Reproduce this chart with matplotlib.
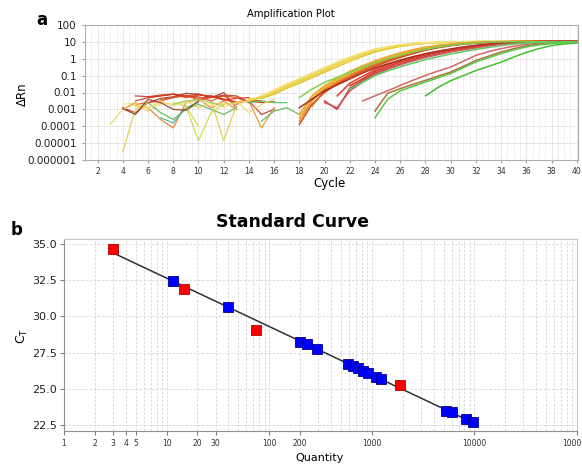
import matplotlib
matplotlib.use('Agg')
import matplotlib.pyplot as plt
import numpy as np
from matplotlib.ticker import MultipleLocator, LogLocator, NullFormatter

# ---------------------------------------------------------------------
# Panel a: amplification curves, log10(dRn) per cycle starting at a given cycle
growth_starts = [14, 14, 14, 13, 15,
                 18, 18, 18, 18, 19,
                 22, 20, 21, 20, 18,
                 23, 24, 24, 28, 18, 22]
growth_logs = [
    # yellow band
    [-2.45, -2.3, -2.0, -1.65, -1.35, -1.0, -0.7, -0.35, -0.03, 0.25, 0.48, 0.65, 0.78, 0.87, 0.93, 0.97, 1.0, 1.01,
     1.02, 1.02, 1.02, 1.02, 1.02, 1.02, 1.02, 1.02, 1.02],
    [-2.5, -2.2, -1.9, -1.55, -1.22, -0.9, -0.58, -0.25, 0.05, 0.32, 0.54, 0.7, 0.82, 0.9, 0.95, 0.98, 1.0, 1.01,
     1.02, 1.02, 1.02, 1.02, 1.02, 1.02, 1.02, 1.02, 1.02],
    [-2.4, -2.35, -2.1, -1.75, -1.45, -1.12, -0.8, -0.47, -0.15, 0.14, 0.4, 0.58, 0.73, 0.84, 0.91, 0.95, 0.98, 1.0,
     1.01, 1.02, 1.02, 1.02, 1.02, 1.02, 1.02, 1.02, 1.02],
    [-2.6, -2.5, -2.25, -1.95, -1.6, -1.28, -0.95, -0.62, -0.3, 0.0, 0.28, 0.5, 0.67, 0.8, 0.88, 0.94, 0.97, 0.99,
     1.0, 1.01, 1.01, 1.01, 1.01, 1.01, 1.01, 1.01, 1.01, 1.01],
    [-2.2, -1.85, -1.5, -1.18, -0.85, -0.52, -0.2, 0.1, 0.36, 0.57, 0.72, 0.83, 0.9, 0.95, 0.98, 1.0, 1.01, 1.01,
     1.01, 1.01, 1.01, 1.01, 1.01, 1.01, 1.01, 1.01],
    # orange band
    [-3.7, -2.5, -1.8, -1.35, -0.95, -0.6, -0.3, -0.03, 0.2, 0.42, 0.6, 0.72, 0.82, 0.9, 0.95, 0.99, 1.01, 1.02,
     1.03, 1.03, 1.03, 1.03, 1.03],
    [-3.3, -2.2, -1.6, -1.15, -0.75, -0.42, -0.12, 0.13, 0.35, 0.54, 0.69, 0.8, 0.88, 0.94, 0.98, 1.0, 1.02, 1.03,
     1.03, 1.03, 1.03, 1.03, 1.03],
    [-3.9, -2.7, -2.0, -1.5, -1.1, -0.75, -0.45, -0.17, 0.08, 0.3, 0.5, 0.65, 0.77, 0.86, 0.92, 0.96, 0.99, 1.01,
     1.02, 1.03, 1.03, 1.03, 1.03],
    [-3.5, -2.35, -1.7, -1.25, -0.85, -0.5, -0.2, 0.06, 0.28, 0.48, 0.65, 0.77, 0.86, 0.92, 0.96, 0.99, 1.01, 1.02,
     1.02, 1.02, 1.02, 1.02, 1.02],
    [-2.8, -1.9, -1.45, -1.05, -0.7, -0.38, -0.1, 0.14, 0.36, 0.55, 0.69, 0.8, 0.88, 0.94, 0.98, 1.0, 1.02, 1.03,
     1.03, 1.03, 1.03, 1.03],
    # red band
    [-1.6, -1.2, -0.75, -0.45, -0.2, 0.02, 0.22, 0.38, 0.52, 0.63, 0.72, 0.83, 0.92, 0.97, 1.0, 1.02, 1.03, 1.03,
     1.03],
    [-2.5, -3.0, -1.75, -1.3, -0.85, -0.55, -0.3, -0.07, 0.14, 0.3, 0.45, 0.57, 0.68, 0.78, 0.88, 0.94, 0.98, 1.01,
     1.02, 1.03, 1.03],
    [-2.2, -1.45, -1.05, -0.65, -0.35, -0.12, 0.1, 0.28, 0.43, 0.56, 0.67, 0.76, 0.86, 0.93, 0.98, 1.01, 1.02, 1.03,
     1.03, 1.03],
    [-2.6, -2.9, -1.9, -1.4, -0.95, -0.62, -0.36, -0.13, 0.07, 0.24, 0.4, 0.53, 0.65, 0.76, 0.86, 0.93, 0.97, 1.0,
     1.02, 1.02, 1.03],
    [-2.9, -2.4, -1.9, -1.55, -1.2, -0.85, -0.55, -0.3, -0.08, 0.12, 0.3, 0.45, 0.58, 0.7, 0.8, 0.88, 0.94, 0.98,
     1.0, 1.02, 1.02, 1.03, 1.03],
    # late risers
    [-2.5, -2.2, -1.9, -1.58, -1.28, -0.99, -0.73, -0.49, -0.15, 0.2, 0.42, 0.6, 0.74, 0.85, 0.92, 0.97, 1.0, 1.01],
    [-3.1, -2.05, -1.77, -1.52, -1.28, -1.03, -0.79, -0.45, -0.1, 0.15, 0.4, 0.6, 0.76, 0.86, 0.92, 0.97, 1.0],
    [-3.5, -2.4, -1.9, -1.64, -1.38, -1.13, -0.88, -0.53, -0.19, 0.06, 0.3, 0.52, 0.7, 0.82, 0.9, 0.96, 1.0],
    [-2.2, -1.7, -1.3, -1.0, -0.7, -0.45, -0.2, 0.1, 0.38, 0.6, 0.78, 0.88, 0.93],
    [-2.3, -1.8, -1.4, -1.1, -0.8, -0.5, -0.25, 0.0, 0.2, 0.4, 0.55, 0.7, 0.8, 0.88, 0.94, 0.98, 1.0, 1.01,
     1.01, 1.01, 1.01, 1.01, 1.01],
    [-1.8, -1.4, -1.0, -0.72, -0.48, -0.26, -0.06, 0.12, 0.28, 0.42, 0.55, 0.67, 0.78, 0.87, 0.93, 0.97, 1.0, 1.01,
     1.01],
]
growth_colors = ['#e8d030', '#f0dc50', '#e0c828', '#ecd860', '#f2e27a',
                 '#e88820', '#f0a020', '#c85018', '#e8b030', '#e06020',
                 '#d83020', '#c84040', '#e04020', '#d05858', '#a83020',
                 '#d06868', '#b07040', '#58c848', '#40c030', '#80d050', '#60c860']

# noisy baseline pieces before the rise
baseline_starts = [5, 4, 5, 5, 11, 4, 3, 4, 6, 7, 8, 9, 11, 14, 15, 14, 5, 4, 8, 4, 13, 6, 7]
baseline_logs = [
    [-2.5, -2.3, -2.2, -2.1, -2.2, -2.35, -2.25, -2.4, -2.55, -2.5, -2.6, -2.55],
    [-2.9, -3.2, -2.6, -2.35, -2.25, -2.05, -2.1, -2.3, -2.0, -2.9],
    [-2.7, -2.6, -2.5, -2.3, -2.15, -2.45, -2.3, -2.2, -2.7, -2.45, -2.5],
    [-2.2, -2.25, -2.15, -2.1, -2.2, -2.1, -2.3, -2.15, -2.2, -2.55],
    [-2.2, -2.4, -2.6, -2.5, -3.3, -3.0],
    [-3.0, -2.6, -2.9, -3.6, -4.1, -2.6, -2.4, -2.9, -2.5, -3.0],
    [-3.9, -3.0, -2.7, -3.1, -2.7],
    [-5.5, -3.0, -2.6],
    [-2.6, -3.2, -3.6, -3.0, -2.7, -3.0, -3.3, -2.9],
    [-3.5, -3.8, -2.9, -2.6],
    [-2.6, -2.8, -4.85, -3.2, -2.7],
    [-2.8, -4.0],
    [-2.5, -4.85, -2.8],
    [-2.5, -4.1, -2.9],
    [-3.7, -3.1, -2.9, -3.3],
    [-2.6, -2.5, -2.6, -2.6],
    [-2.8, -2.9, -2.6, -2.7, -2.5, -2.9, -2.6, -2.7, -2.6],
    [-2.7, -2.6, -2.9, -2.5, -2.8, -2.6, -2.5, -2.7, -2.9, -2.6, -2.5],
    [-2.7, -2.5, -2.4, -2.6, -2.8],
    [-2.96, -3.3, -2.4, -2.6, -3.0, -3.05, -2.5],
    [-2.5, -3.2, -2.7, -2.4],
    [-2.3, -2.2, -2.1, -2.3, -2.15, -2.2, -2.45, -2.35, -2.3],
    [-2.4, -2.3, -2.2, -2.25, -2.5, -2.2, -2.3, -2.6],
]
baseline_colors = ['#d83018', '#a83828', '#e84820', '#b04030', '#c03828', '#e87828', '#e8d860',
                   '#e0d040', '#50b850', '#48b090', '#c8d848', '#e0d050', '#e0cc40', '#e89030',
                   '#58b858', '#50c060', '#e8d050', '#f0e080', '#a0d060', '#903828', '#e8d870',
                   '#e03010', '#d05020']

cycle_ticks = list(range(2, 41, 2))
drn_ticks = [1e-6, 1e-5, 1e-4, 1e-3, 1e-2, 1e-1, 1, 10, 100]
drn_labels = ['0.000001', '0.00001', '0.0001', '0.001', '0.01', '0.1', '1', '10', '100']

# ---------------------------------------------------------------------
# Panel b: standard curve
std_quantity = [11.6, 40, 200, 235, 295, 592, 660, 727, 815, 910, 1096, 1230, 5260, 6000, 8200, 9800]
std_ct = [32.45, 30.65, 28.23, 28.1, 27.75, 26.7, 26.55, 26.45, 26.25, 26.1, 25.8, 25.7, 23.47, 23.4, 22.92, 22.7]
unk_quantity = [3.0, 14.9, 75, 1870]
unk_ct = [34.65, 31.9, 29.06, 25.25]

q_ticks = [1, 2, 3, 4, 5, 10, 20, 30, 100, 200, 1000, 10000, 100000]
ct_ticks = [22.5, 25.0, 27.5, 30.0, 32.5, 35.0]

# ---------------------------------------------------------------------
fig = plt.figure(figsize=(5.82, 4.70), dpi=100)
fig.patch.set_facecolor('white')

W, H = 582.0, 470.0
ax1 = fig.add_axes([85 / W, 1 - 160 / H, 493 / W, 135 / H])
ax2 = fig.add_axes([64 / W, 1 - 431 / H, 513 / W, 192 / H])

# ---- amplification plot
for start, logs, col in zip(baseline_starts, baseline_logs, baseline_colors):
    cyc = np.arange(start, start + len(logs))
    ax1.plot(cyc, 10.0 ** np.array(logs), color=col, lw=0.9, alpha=0.9, zorder=2)

for start, logs, col in zip(growth_starts, growth_logs, growth_colors):
    cyc = np.arange(start, start + len(logs))
    ax1.plot(cyc, 10.0 ** np.array(logs), color=col, lw=1.1, zorder=3)

ax1.set_yscale('log')
ax1.set_xlim(1.0, 40.1)
ax1.set_ylim(1e-6, 100)
ax1.set_yticks(drn_ticks, drn_labels)
ax1.yaxis.set_minor_locator(LogLocator(base=10, subs=np.arange(2, 10)))
ax1.yaxis.set_minor_formatter(NullFormatter())
ax1.set_xticks(cycle_ticks, [str(c) for c in cycle_ticks])
ax1.xaxis.set_minor_locator(MultipleLocator(0.5))
ax1.grid(which='major', color='#c8c8c8', linestyle=(0, (1, 1)), lw=0.6)
ax1.grid(which='minor', color='#d8d8d8', linestyle=(0, (1, 1)), lw=0.5)
ax1.tick_params(axis='y', which='major', labelsize=7.5, length=2, color='#a0a0a0', pad=4, labelcolor='#202020')
ax1.tick_params(axis='x', which='major', labelsize=5.5, length=2, color='#a0a0a0', pad=3, labelcolor='#303030')
ax1.tick_params(which='minor', length=0)
for sp in ax1.spines.values():
    sp.set_color('#b0b0b0')
    sp.set_linewidth(0.8)

fig.text(291 / W, 1 - 14 / H, 'Amplification Plot', ha='center', va='center', fontsize=7.2)
fig.text(42 / W, 1 - 20 / H, 'a', ha='center', va='center', fontsize=12, fontweight='bold')
fig.text(22 / W, 1 - 94 / H, 'ΔRn', ha='center', va='center', rotation=90, fontsize=8.5)
fig.text(330 / W, 1 - 183 / H, 'Cycle', ha='center', va='center', fontsize=8.5)

# ---- standard curve
slope, icpt = np.polyfit(np.log10(std_quantity), std_ct, 1)
all_q = std_quantity + unk_quantity
line_q = np.array([min(all_q), max(all_q)])
ax2.plot(line_q, slope * np.log10(line_q) + icpt, color='#303030', lw=1.1, zorder=3)
ax2.plot(std_quantity, std_ct, 's', color='#0000ff', mec='#00008a', mew=0.6, ms=7, zorder=4)
ax2.plot(unk_quantity, unk_ct, 's', color='#ff0000', mec='#b00000', mew=0.6, ms=7, zorder=4)

ax2.set_xscale('log')
ax2.set_xlim(1, 100000)
ax2.set_ylim(22.09, 35.35)
ax2.set_xticks(q_ticks, [str(q) for q in q_ticks])
ax2.xaxis.set_minor_locator(LogLocator(base=10, subs=np.arange(2, 10)))
ax2.xaxis.set_minor_formatter(NullFormatter())
ax2.set_yticks(ct_ticks, ['%.1f' % v for v in ct_ticks])
ax2.grid(which='both', axis='x', color='#d4d4d4', linestyle=(0, (3, 2)), lw=0.6)
ax2.grid(which='major', axis='y', color='#d4d4d4', linestyle=(0, (3, 2)), lw=0.6)
ax2.tick_params(axis='y', labelsize=8, length=3, color='#808080', pad=2, labelcolor='#202020')
ax2.tick_params(axis='x', which='major', labelsize=5.5, length=3, color='#808080', pad=3, labelcolor='#303030')
ax2.tick_params(which='minor', length=0)
for sp in ax2.spines.values():
    sp.set_color('#c8c8c8')
    sp.set_linewidth(0.8)
ax2.spines['left'].set_color('#909090')
ax2.spines['bottom'].set_color('#909090')

fig.text(293 / W, 1 - 222 / H, 'Standard Curve', ha='center', va='center', fontsize=12.5, fontweight='bold')
fig.text(17 / W, 1 - 230 / H, 'b', ha='center', va='center', fontsize=12, fontweight='bold')
fig.text(22 / W, 1 - 336 / H, 'C$_\\mathregular{T}$', ha='center', va='center', rotation=90, fontsize=9)
fig.text(320 / W, 1 - 458 / H, 'Quantity', ha='center', va='center', fontsize=8)

fig.savefig('out.png', dpi=100)
